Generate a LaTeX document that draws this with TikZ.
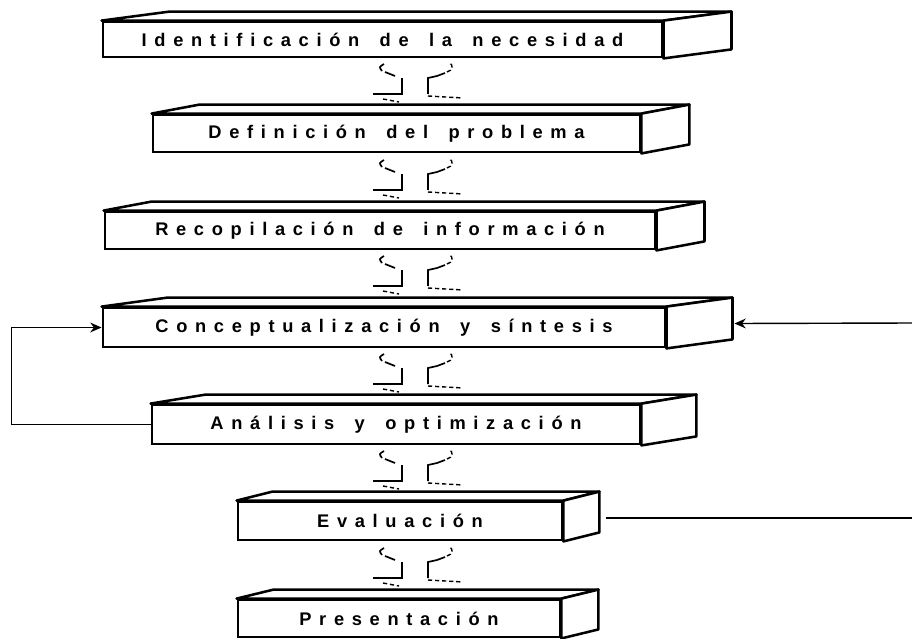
\documentclass[tikz,border=0pt]{standalone}
\usepackage{fontspec}
\newfontfamily\cajafont[LetterSpace=42,WordSpace=1.6]{Liberation Sans}
\usetikzlibrary{arrows.meta}

\begin{document}
\begin{tikzpicture}[
    x=0.025cm, y=-0.025cm,
    caja/.style={
        rectangle, draw=black, line width=2pt,
        fill=white,
        font=\cajafont\bfseries\fontsize{13}{15}\selectfont,
        inner sep=0pt,
    },
    cara/.style={
        draw=black, line width=1.8pt, line join=round, fill=white,
    },
    flecha/.style={
        -{Stealth[length=8pt,width=7pt]}, line width=1pt,
    },
    linea/.style={line width=1pt},
    trazo/.style={line width=1.2pt},
    punteado/.style={line width=1pt, dash pattern=on 3pt off 2pt},
    giro/.pic={
        \draw[trazo] (-13,-4) -- (-13,12) -- (-42,12);
        \draw[trazo] (13,12) -- (13,-4) -- (22,-6) -- (30,-9);
        \draw[trazo] (-31,-18) .. controls (-36,-15) .. (-33,-11);
        \draw[trazo] (-30,-10) -- (-20,-6);
        \draw[punteado] (32,-10) .. controls (38,-12) and (39,-16) .. (34,-20);
        \draw[punteado] (13,14) -- (48,16);
        \draw[punteado] (-32,17) -- (-16,20);
    },
]
\useasboundingbox (0,0) rectangle (912,638);

% front faces of the seven stages
\node[caja, minimum width=13.975cm, minimum height=0.875cm] (ident) at (382.5,39.5) {Identificación de la necesidad};
\node[caja, minimum width=12.175cm, minimum height=0.925cm] (defin) at (396.5,133.5) {Definición del problema};
\node[caja, minimum width=13.75cm, minimum height=0.925cm] (recop) at (380,230.5) {Recopilación de información};
\node[caja, minimum width=14.05cm, minimum height=0.975cm] (conc) at (384,327.5) {Conceptualización y síntesis};
\node[caja, minimum width=12.2cm, minimum height=0.975cm] (anal) at (396,424.5) {Análisis y optimización};
\node[caja, minimum width=8.1cm, minimum height=0.95cm] (eval) at (400,521) {Evaluación};
\node[caja, minimum width=8.05cm, minimum height=0.925cm] (pres) at (399,618.5) {Presentación};

% top and side faces
\foreach \n/\d in {ident/68, defin/48, recop/48, conc/66, anal/55, eval/36, pres/37} {
    \draw[cara] (\n.north west) -- ([shift={(\d,-9)}]\n.north west)
        -- ([shift={(\d,-9)}]\n.north east) -- (\n.north east) -- cycle;
    \draw[cara] (\n.north east) -- ([shift={(\d,-9)}]\n.north east)
        -- ([shift={(\d,-9)}]\n.south east) -- (\n.south east) -- cycle;
}

% iteration marks between stages
\foreach \y in {82, 178, 274, 372, 469, 566}
    \pic at (415,\y) {giro};

% feedback loops
\coordinate (borde1) at (912,323);
\coordinate (borde2) at (912,518);
\draw[flecha] (anal.west) -- ++(-139,0) |- (conc.west);
\draw[flecha] (borde1) -- ([shift={(68,-4)}]conc.east);
\draw[linea] ([shift={(43,-3)}]eval.east) -- (borde2);

\end{tikzpicture}
\end{document}
